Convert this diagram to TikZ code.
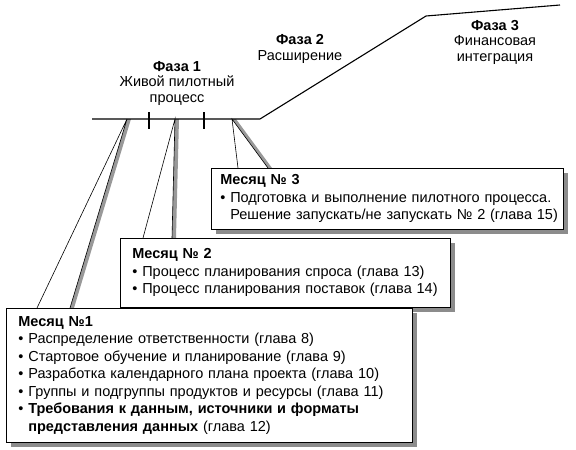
\documentclass[tikz,border=0pt]{standalone}
\usepackage{fontspec}
\setmainfont{Liberation Sans}
\usetikzlibrary{calc, shadows, backgrounds}
\newcommand{\bul}{\textbullet\ }
\newcommand{\bulgap}{\hphantom{\textbullet\ }}

\begin{document}
\begin{tikzpicture}[x=1pt, y=-1pt,
   phase/.style={align=center, font=\fontsize{14.5}{15.5}\selectfont},
   month/.style={draw, fill=white, line width=0.8pt, anchor=north west,
                 inner xsep=12pt, inner ysep=0pt, align=left,
                 font=\fontsize{14.5}{17.5}\selectfont,
                 drop shadow={shadow xshift=5pt, shadow yshift=-5pt,
                              fill=black!45, opacity=1}},
   axis/.style={line width=1.1pt},
   callout/.style={line width=0.6pt},
   band/.style={fill=black!40}]
  \useasboundingbox (0,0) rectangle (576,450);

  % time axis with the three phases
  \coordinate (start) at (92,119);
  \coordinate (bend1) at (260,119);
  \coordinate (bend2) at (426,16);
  \coordinate (stop)  at (560,5);
  \draw[axis] (start) -- (bend1) -- (bend2) -- (stop);
  \foreach \x in {149,204}
    \draw[axis] (\x,112) -- (\x,129);

  \node[phase] (ph1) at (177,83) {\textbf{Фаза 1}\\Живой пилотный\\процесс};
  \node[phase] (ph2) at (300,49) {\textbf{Фаза 2}\\Расширение};
  \node[phase] (ph3) at (495,42) {\textbf{Фаза 3}\\Финансовая\\интеграция};

  % month boxes
  \node[month, minimum width=352pt, minimum height=61pt, text width=342pt,
        inner xsep=5pt]
       (box3) at (211,168)
       {\hspace*{4pt}\textbf{Месяц № 3}\\
        \hspace*{4pt}\bul Подготовка и выполнение пилотного процесса.\\
        \hspace*{4pt}\bulgap Решение запускать/не запускать № 2 (глава 15)};
  \node[month, minimum width=330pt, minimum height=69pt, text width=306pt]
       (box2) at (120,238)
       {\textbf{Месяц № 2}\\
        \bul Процесс планирования спроса (глава 13)\\
        \bul Процесс планирования поставок (глава 14)};
  \node[month, minimum width=406pt, minimum height=134pt, text width=382pt]
       (box1) at (6,308)
       {\textbf{Месяц №1}\\
        \bul Распределение ответственности (глава 8)\\
        \bul Стартовое обучение и планирование (глава 9)\\
        \bul Разработка календарного плана проекта (глава 10)\\
        \bul Группы и подгруппы продуктов и ресурсы (глава 11)\\
        \bul \textbf{Требования к данным, источники и форматы}\\
        \bulgap \textbf{представления данных} (глава 12)};

  % callouts from the axis to the boxes
  \coordinate (m1) at (127,119);
  \coordinate (m2) at (175,119);
  \coordinate (m3) at (232,119);
  \coordinate (m1l) at ($(box1.north west)+(31,0)$);
  \coordinate (m1r) at ($(box1.north west)+(64,0)$);
  \coordinate (m2l) at ($(box2.north west)+(23,0)$);
  \coordinate (m2r) at ($(box2.north west)+(52,0)$);
  \coordinate (m3l) at ($(box3.north west)+(27,0)$);
  \coordinate (m3r) at ($(box3.north west)+(57,0)$);
  \begin{scope}[on background layer]
    \foreach \m in {m1,m2,m3} {
      \fill[band] (\m) -- ++(4,0) -- ($(\m r)+(4,0)$) -- (\m r) -- cycle;
      \draw[callout] (\m l) -- (\m) -- (\m r);
    }
  \end{scope}
\end{tikzpicture}
\end{document}
